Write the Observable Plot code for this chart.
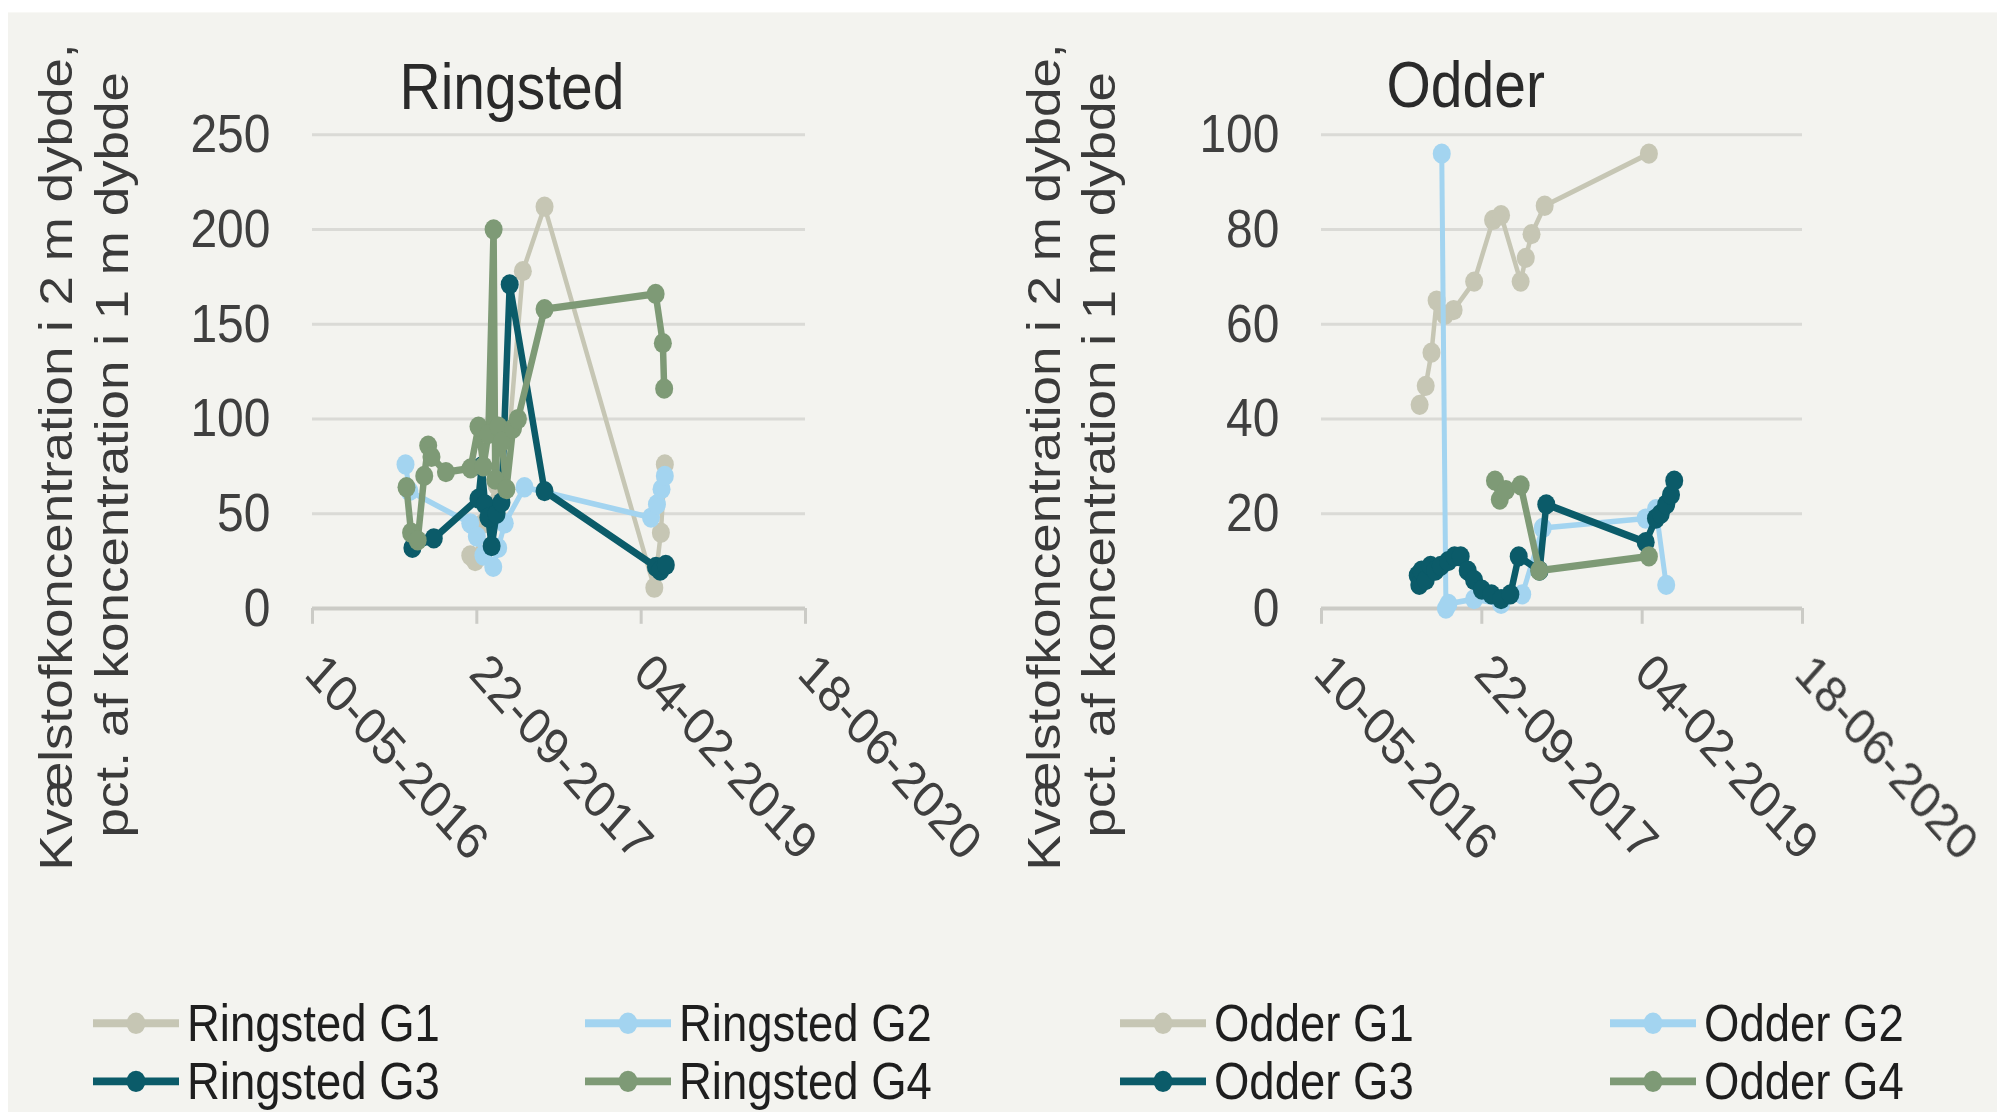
<!DOCTYPE html>
<html>
<head>
<meta charset="utf-8">
<script src="https://cdn.jsdelivr.net/npm/d3@7"></script>
<script src="https://cdn.jsdelivr.net/npm/@observablehq/plot@0.6"></script>
<style>
  html, body { margin: 0; padding: 0; background: #ffffff; overflow: hidden; }
  #stage { position: absolute; left: 0; top: 0; width: 1997px; height: 987px;
           transform: scaleY(1.127); transform-origin: 0 0;
           font-family: "Liberation Sans", Arial, sans-serif; }
  #bg { position: absolute; left: 8px; top: 10.6px; right: 0; bottom: 0; background: #f3f3ef; }
  .panel { position: absolute; top: 0; }
  #legend { position: absolute; left: 0; top: 866px; }
</style>
</head>
<body>
<div id="stage">
  <div id="bg"></div>
  <div id="p1" class="panel" style="left:0px"></div>
  <div id="p2" class="panel" style="left:998px"></div>
  <div id="legend"></div>
</div>
<script>
// ---------- data ----------
const tickDates = ["2016-05-10", "2017-09-22", "2019-02-04", "2020-06-18"];
const ringstedYTicks = [0, 50, 100, 150, 200, 250];
const odderYTicks = [0, 20, 40, 60, 80, 100];
const seriesNames = ["G1", "G2", "G3", "G4"];
const seriesColors = ["#c6c6b4", "#a3d4f0", "#0b5b69", "#7e9a76"];
const panelTitles = ["Ringsted", "Odder"];
const yTitleLines = ["Kvælstofkoncentration i 2 m dybde,", "pct. af koncentration i 1 m dybde"];

// Ringsted
const ringstedG1Dates = ["2017-09-02","2017-09-17","2017-10-12","2017-11-21","2017-12-31","2018-02-09","2018-04-16","2019-03-16","2019-04-05","2019-04-17"];
const ringstedG1Values = [28, 25, 45, 65, 95, 178, 212, 11, 40, 76];

const ringstedG2Dates = ["2017-02-17","2017-03-01","2017-09-02","2017-09-22","2017-10-12","2017-11-11","2017-11-26","2017-12-16","2018-02-14","2019-03-06","2019-03-24","2019-04-07","2019-04-17"];
const ringstedG2Values = [76, 62, 45, 38, 28, 22, 32, 45, 64, 48, 55, 63, 70];

const ringstedG3Dates = ["2017-03-10","2017-05-14","2017-09-27","2017-10-07","2017-10-17","2017-10-27","2017-11-06","2017-11-21","2017-12-06","2017-12-31","2018-04-16","2019-03-21","2019-04-03","2019-04-20"];
const ringstedG3Values = [32, 37, 58, 75, 55, 48, 33, 50, 56, 171, 62, 22, 20, 23];

const ringstedG4Dates = ["2017-02-20","2017-03-06","2017-03-26","2017-04-15","2017-04-27","2017-05-07","2017-06-20","2017-09-03","2017-09-27","2017-10-12","2017-10-27","2017-11-12","2017-11-17","2017-11-27","2017-12-07","2017-12-21","2018-01-10","2018-01-25","2018-04-16","2019-03-20","2019-04-11","2019-04-15"];
const ringstedG4Values = [64, 40, 36, 70, 86, 80, 72, 74, 96, 75, 92, 200, 68, 96, 88, 63, 95, 100, 158, 166, 140, 116];

// Odder
const odderG1Dates = ["2017-03-12","2017-03-31","2017-04-18","2017-05-04","2017-05-30","2017-06-26","2017-08-29","2017-10-27","2017-11-21","2018-01-21","2018-02-06","2018-02-24","2018-04-06","2019-02-25"];
const odderG1Values = [43, 47, 54, 65, 62, 63, 69, 82, 83, 69, 74, 79, 85, 96];

const odderG2Dates = ["2017-05-20","2017-06-02","2017-06-10","2017-08-29","2017-11-21","2018-01-26","2018-03-31","2019-02-15","2019-03-19","2019-04-20"];
const odderG2Values = [96, 0, 1, 2, 1, 3, 17, 19, 21, 5];

const odderG3Dates = ["2017-03-06","2017-03-11","2017-03-18","2017-03-31","2017-04-15","2017-04-30","2017-05-17","2017-06-09","2017-06-29","2017-07-18","2017-08-09","2017-08-29","2017-09-22","2017-10-22","2017-11-21","2017-12-20","2018-01-15","2018-03-21","2018-04-11","2019-02-15","2019-03-19","2019-04-03","2019-04-20","2019-05-05","2019-05-15"];
const odderG3Values = [7, 5, 8, 6, 9, 8, 9, 10, 11, 11, 8, 6, 4, 3, 2, 3, 11, 8, 22, 14, 19, 20, 22, 24, 27];

const odderG4Dates = ["2017-11-02","2017-11-17","2017-12-06","2018-01-21","2018-03-20","2019-02-25"];
const odderG4Values = [27, 23, 25, 26, 8, 11];

// ---------- helpers ----------
const parse = d3.utcParse("%Y-%m-%d");
const fmt = d3.utcFormat("%d-%m-%Y");
const FONT = '"Liberation Sans", Arial, sans-serif';
const strokeWidths = [4.5, 5, 6.5, 6.5];

function rowsOf(dates, values) {
  return dates.map((d, i) => ({date: parse(d), value: values[i]}));
}

const ringstedSeries = [
  rowsOf(ringstedG1Dates, ringstedG1Values),
  rowsOf(ringstedG2Dates, ringstedG2Values),
  rowsOf(ringstedG3Dates, ringstedG3Values),
  rowsOf(ringstedG4Dates, ringstedG4Values)
];
const odderSeries = [
  rowsOf(odderG1Dates, odderG1Values),
  rowsOf(odderG2Dates, odderG2Values),
  rowsOf(odderG3Dates, odderG3Values),
  rowsOf(odderG4Dates, odderG4Values)
];

const H = 800;           // svg height (design units, stage is stretched vertically)
const TOP = 119;         // y of top gridline
const BOTTOM = 539.5;    // y of zero line
const ticksX = tickDates.map(parse);

function panel({series, yTicks, width, marginLeft, marginRight, title, titleDx, titleDy, yDx1, yDx2}) {
  const midY = (TOP + BOTTOM) / 2;
  const seriesMarks = [];
  series.forEach((rows, i) => {
    seriesMarks.push(Plot.line(rows, {x: "date", y: "value", stroke: seriesColors[i], strokeWidth: strokeWidths[i], curve: "linear"}));
    seriesMarks.push(Plot.dot(rows, {x: "date", y: "value", fill: seriesColors[i], r: 9}));
  });
  return Plot.plot({
    width, height: H,
    marginLeft, marginRight, marginTop: TOP, marginBottom: H - BOTTOM,
    style: {background: "transparent", fontFamily: FONT, overflow: "visible"},
    x: {type: "utc", domain: [ticksX[0], ticksX[ticksX.length - 1]], label: null},
    y: {domain: [yTicks[0], yTicks[yTicks.length - 1]], label: null},
    marks: [
      Plot.gridY(yTicks.slice(1), {stroke: "#dadad6", strokeWidth: 2.6, strokeOpacity: 1}),
      Plot.ruleY([yTicks[0]], {stroke: "#cbcbc6", strokeWidth: 3.5}),
      Plot.axisX(ticksX, {tickSize: 14, tickFormat: () => "", stroke: "#cbcbc6", strokeWidth: 3}),
      Plot.axisX(ticksX, {tickSize: 0, tickPadding: 49, dx: 1, tickRotate: 45, tickFormat: fmt, fontSize: 46, fill: "#3f3f3f"}),
      Plot.axisY(yTicks, {tickSize: 0, tickPadding: 42, fontSize: 48, fill: "#3f3f3f"}),
      Plot.text([title], {text: d => d, frameAnchor: "top-left", dx: titleDx, dy: titleDy, textAnchor: "start", fontSize: 57, fill: "#2a2a2a"}),
      Plot.text([yTitleLines[0]], {text: d => d, frameAnchor: "left", rotate: -90, textAnchor: "middle", dx: yDx1, dy: 405 - midY, fontSize: 47, fill: "#3a3a3a"}),
      Plot.text([yTitleLines[1]], {text: d => d, frameAnchor: "left", rotate: -90, textAnchor: "middle", dx: yDx2, dy: 403 - midY, fontSize: 47, fill: "#3a3a3a"}),
      ...seriesMarks
    ]
  });
}

document.getElementById("p1").appendChild(panel({
  series: ringstedSeries, yTicks: ringstedYTicks, width: 998,
  marginLeft: 312, marginRight: 193, title: panelTitles[0],
  titleDx: 87, titleDy: 56 - TOP, yDx1: 56.6 - 312, yDx2: 112.6 - 312
}));
document.getElementById("p2").appendChild(panel({
  series: odderSeries, yTicks: odderYTicks, width: 999,
  marginLeft: 323, marginRight: 195, title: panelTitles[1],
  titleDx: 65, titleDy: 54 - TOP, yDx1: 46.6 - 323, yDx2: 101.6 - 323
}));

// ---------- legend ----------
const legendItems = [
  {label: "Ringsted G1", s: 0, col: 0, row: 0},
  {label: "Ringsted G2", s: 1, col: 1, row: 0},
  {label: "Odder G1", s: 0, col: 2, row: 0},
  {label: "Odder G2", s: 1, col: 3, row: 0},
  {label: "Ringsted G3", s: 2, col: 0, row: 1},
  {label: "Ringsted G4", s: 3, col: 1, row: 1},
  {label: "Odder G3", s: 2, col: 2, row: 1},
  {label: "Odder G4", s: 3, col: 3, row: 1}
];
const legendTextX = [187, 679, 1214, 1704];
const legendRowY = [42, 93.5];
const lsvg = d3.select("#legend").append("svg").attr("width", 1997).attr("height", 117)
  .style("overflow", "visible").attr("font-family", FONT);
legendItems.forEach(it => {
  const tx = legendTextX[it.col], y = legendRowY[it.row];
  const g = lsvg.append("g");
  g.append("line").attr("x1", tx - 94).attr("x2", tx - 8).attr("y1", y).attr("y2", y)
    .attr("stroke", seriesColors[it.s]).attr("stroke-width", 7);
  g.append("circle").attr("cx", tx - 51).attr("cy", y).attr("r", 9.5).attr("fill", seriesColors[it.s]);
  g.append("text").attr("x", tx).attr("y", y + 16).attr("font-size", 45.5).attr("fill", "#1e1e1e").text(it.label);
});
</script>
</body>
</html>
